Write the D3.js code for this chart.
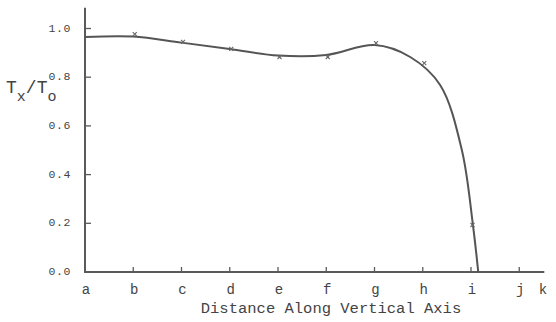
<!DOCTYPE html>
<html><head><meta charset="utf-8">
<script src="https://cdn.jsdelivr.net/npm/d3@7/dist/d3.min.js"></script>
<style>
html,body{margin:0;padding:0;background:#fff;}
svg text{font-family:"Liberation Mono","DejaVu Sans Mono",monospace;fill:#444;}
</style></head>
<body><svg id="c" width="556" height="322"></svg>
<script>
const categories = ["a","b","c","d","e","f","g","h","i","j","k"];
const yTicks = [0.0, 0.2, 0.4, 0.6, 0.8, 1.0];
const yTickLabels = ["0.0","0.2","0.4","0.6","0.8","1.0"];
// measured points (x marks): category index, ratio
const markerIdx = [1, 2, 3, 4, 5, 6, 7, 8];
const markerVal = [0.977, 0.945, 0.916, 0.883, 0.883, 0.940, 0.858, 0.193];
// hand-drawn curve
const curveIdx = [0, 1, 2, 3, 4, 5, 6, 6.74, 7.36, 7.81, 8.04, 8.15];
const curveVal = [0.965, 0.967, 0.942, 0.916, 0.889, 0.891, 0.932, 0.883, 0.768, 0.501, 0.193, 0.0];

const svg = d3.select("#c");
const x = d3.scaleLinear().domain([0, 9]).range([85, 519.25]);
const y = d3.scaleLinear().domain([0, 1]).range([272, 28.5]);
const axisColor = "#5a5a5a";

// axes lines
svg.append("line").attr("x1", x(0)).attr("x2", x(9.52)).attr("y1", y(0)).attr("y2", y(0))
  .attr("stroke", axisColor).attr("stroke-width", 2);
svg.append("line").attr("x1", x(0)).attr("x2", x(0)).attr("y1", y(0)+1).attr("y2", y(1.085))
  .attr("stroke", axisColor).attr("stroke-width", 2);

// y ticks
const yt = svg.append("g");
yTicks.forEach((v, i) => {
  if (v > 0) yt.append("line").attr("x1", x(0)).attr("x2", x(0)+6).attr("y1", y(v)).attr("y2", y(v))
    .attr("stroke", axisColor).attr("stroke-width", 1.3);
  yt.append("text").attr("x", 71).attr("y", y(v)+3).attr("text-anchor", "end")
    .attr("font-size", 11.5).attr("letter-spacing", 0.6).text(yTickLabels[i]);
});

// x ticks & labels
const xt = svg.append("g");
categories.forEach((c, i) => {
  const pos = i < 10 ? x(i) : x(9.47);
  if (i > 0 && i < 10) xt.append("line").attr("x1", pos).attr("x2", pos).attr("y1", y(0)).attr("y2", y(0)-5)
    .attr("stroke", axisColor).attr("stroke-width", 1.3);
  xt.append("text").attr("x", pos+1).attr("y", 294).attr("text-anchor", "middle")
    .attr("font-size", 14).text(c);
});

// axis titles
svg.append("text").attr("x", 331).attr("y", 313).attr("text-anchor", "middle")
  .attr("font-size", 15.5).text("Distance Along Vertical Axis");
const yl = svg.append("text").attr("x", 6).attr("y", 93).attr("font-size", 18);
yl.append("tspan").text("T");
yl.append("tspan").attr("dy", 8).attr("font-size", 15).text("x");
yl.append("tspan").attr("dy", -8).text("/T");
yl.append("tspan").attr("dy", 8).attr("font-size", 15).text("o");

// curve
const pts = curveIdx.map((d, i) => [d, curveVal[i]]);
const line = d3.line().x(d => x(d[0])).y(d => y(d[1])).curve(d3.curveCatmullRom.alpha(0.5));
svg.append("path").datum(pts).attr("d", line).attr("fill", "none")
  .attr("stroke", "#555").attr("stroke-width", 2);

// markers
const mk = svg.append("g").attr("stroke", "#666").attr("stroke-width", 1.1);
markerIdx.forEach((d, i) => {
  const cx = x(d) + 1.5, cy = y(markerVal[i]);
  mk.append("line").attr("x1", cx-2).attr("x2", cx+2).attr("y1", cy-2).attr("y2", cy+2);
  mk.append("line").attr("x1", cx-2).attr("x2", cx+2).attr("y1", cy+2).attr("y2", cy-2);
});
</script></body></html>
